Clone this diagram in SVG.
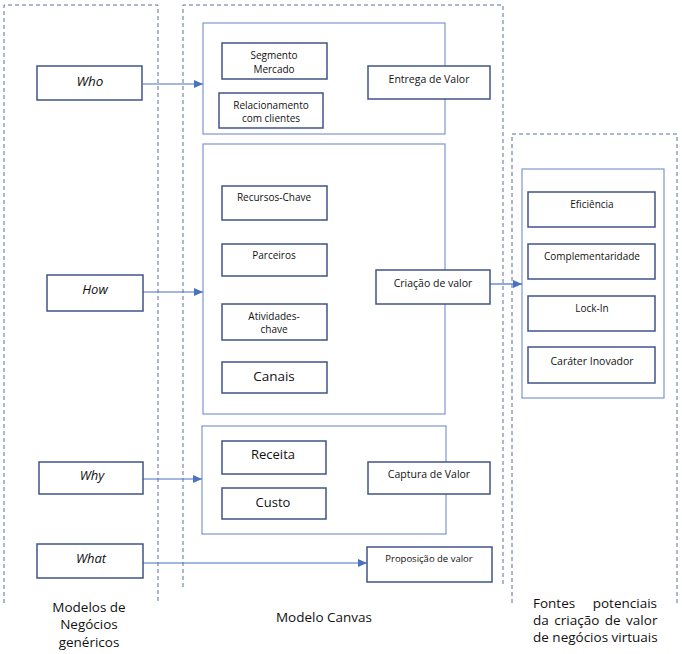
<svg xmlns="http://www.w3.org/2000/svg" width="682" height="654" viewBox="0 0 682 654">
<defs>
<style>
.dash{fill:none;stroke:#5b6f9f;stroke-width:1;stroke-dasharray:4 3}
.group{fill:none;stroke:#7f97d0;stroke-width:1.2}
.node{fill:#ffffff;stroke:#3f5486;stroke-width:1.5}
.t{font-family:"Open Sans","Noto Sans","DejaVu Sans",sans-serif;fill:#111;text-anchor:middle}
.it{font-style:italic}
.conn{fill:none;stroke:#4a72c0;stroke-width:1.2}
.lbl{font-family:"Open Sans","Noto Sans","DejaVu Sans",sans-serif;fill:#111;font-size:13.5px}
</style>
<marker id="arr" markerWidth="10" markerHeight="8" refX="9" refY="4" orient="auto" markerUnits="userSpaceOnUse">
<path d="M0,0 L9,4 L0,8 z" fill="#4a72c0"/>
</marker>
</defs>
<rect width="682" height="654" fill="#ffffff"/>

<g id="columns">
<path class="dash" d="M4,603 V5 H158 V603"/>
<path class="dash" d="M183,587 V5 H503 V587"/>
<path class="dash" d="M512,603 V134 H677 V603"/>
</g>

<g id="groups">
<rect id="grp-entrega" class="group" x="203" y="23" width="242" height="111"/>
<rect id="grp-criacao" class="group" x="203" y="144" width="242" height="270"/>
<rect id="grp-captura" class="group" x="202" y="426" width="244" height="108"/>
<rect id="grp-fontes" class="group" x="522" y="169" width="142" height="229"/>
</g>

<g id="connectors">
<line class="conn" x1="143" y1="84" x2="203" y2="84" marker-end="url(#arr)"/>
<line class="conn" x1="143" y1="292" x2="203" y2="292" marker-end="url(#arr)"/>
<line class="conn" x1="143" y1="479" x2="202" y2="479" marker-end="url(#arr)"/>
<line class="conn" x1="143" y1="563" x2="367" y2="563" marker-end="url(#arr)"/>
<line class="conn" x1="490" y1="284" x2="522" y2="284" marker-end="url(#arr)"/>
</g>

<g id="who"><rect class="node" x="37" y="66" width="105" height="34"/><text class="t it" x="90" y="86" font-size="13.5">Who</text></g>
<g id="how"><rect class="node" x="47" y="275" width="96" height="36"/><text class="t it" x="95" y="294" font-size="13">How</text></g>
<g id="why"><rect class="node" x="39" y="462" width="104" height="32"/><text class="t it" x="92" y="480" font-size="13">Why</text></g>
<g id="what"><rect class="node" x="37" y="544" width="106" height="34"/><text class="t it" x="91" y="563" font-size="13">What</text></g>

<g id="segmento"><rect class="node" x="222" y="43" width="105" height="36"/><text class="t" x="274" font-size="10"><tspan x="274" y="59">Segmento</tspan><tspan x="274" y="73">Mercado</tspan></text></g>
<g id="relacionamento"><rect class="node" x="219" y="93" width="104" height="35"/><text class="t" font-size="10"><tspan x="271" y="109">Relacionamento</tspan><tspan x="271" y="122">com clientes</tspan></text></g>
<g id="entrega"><rect class="node" x="368" y="66" width="122" height="33"/><text class="t" x="429" y="83" font-size="10.5">Entrega de Valor</text></g>

<g id="recursos"><rect class="node" x="222" y="186" width="105" height="34"/><text class="t" x="274" y="201" font-size="10">Recursos-Chave</text></g>
<g id="parceiros"><rect class="node" x="222" y="244" width="105" height="32"/><text class="t" x="274" y="259" font-size="10">Parceiros</text></g>
<g id="atividades"><rect class="node" x="222" y="304" width="105" height="36"/><text class="t" font-size="10"><tspan x="274" y="320">Atividades-</tspan><tspan x="274" y="333">chave</tspan></text></g>
<g id="canais"><rect class="node" x="222" y="362" width="105" height="31"/><text class="t" x="274" y="381" font-size="13.5">Canais</text></g>
<g id="criacao"><rect class="node" x="376" y="270" width="114" height="34"/><text class="t" x="433" y="287" font-size="10.5">Criação de valor</text></g>

<g id="receita"><rect class="node" x="222" y="441" width="104" height="33"/><text class="t" x="273" y="459" font-size="13">Receita</text></g>
<g id="custo"><rect class="node" x="222" y="488" width="104" height="31"/><text class="t" x="273" y="507" font-size="13">Custo</text></g>
<g id="captura"><rect class="node" x="368" y="462" width="122" height="32"/><text class="t" x="429" y="478" font-size="10.5">Captura de Valor</text></g>
<g id="proposicao"><rect class="node" x="367" y="547" width="125" height="35"/><text class="t" x="429" y="562" font-size="9.5">Proposição de valor</text></g>

<g id="eficiencia"><rect class="node" x="528" y="192" width="127" height="35"/><text class="t" x="592" y="208" font-size="10">Eficiência</text></g>
<g id="complementaridade"><rect class="node" x="528" y="244" width="127" height="35"/><text class="t" x="592" y="260" font-size="10">Complementaridade</text></g>
<g id="lockin"><rect class="node" x="528" y="296" width="127" height="35"/><text class="t" x="592" y="312" font-size="10">Lock-In</text></g>
<g id="carater"><rect class="node" x="528" y="347" width="127" height="36"/><text class="t" x="592" y="365" font-size="10.5">Caráter Inovador</text></g>

<g id="labels">
<text class="lbl" text-anchor="middle"><tspan x="89" y="612">Modelos de</tspan><tspan x="89" y="629">Negócios</tspan><tspan x="89" y="647">genéricos</tspan></text>
<text class="lbl" x="324" y="622" text-anchor="middle">Modelo Canvas</text>
<text class="lbl" font-size="12.5" x="533" y="608">Fontes</text>
<text class="lbl" font-size="12.5" x="657" y="608" text-anchor="end">potenciais</text>
<text class="lbl" font-size="12.5" x="533" y="625" word-spacing="2">da criação de valor</text>
<text class="lbl" font-size="12.5" x="533" y="642">de negócios virtuais</text>
</g>
</svg>
